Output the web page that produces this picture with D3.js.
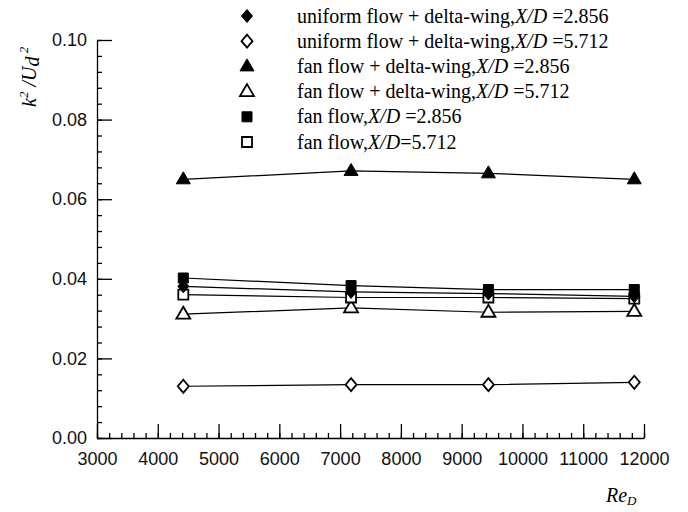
<!DOCTYPE html>
<html>
<head>
<meta charset="utf-8">
<script src="https://cdn.jsdelivr.net/npm/d3@7"></script>
<style>
  body { margin: 0; background: #fff; }
  .tick text { font-family: "Liberation Sans", Arial, sans-serif; font-size: 18px; fill: #111; }
  .lbl { font-family: "Liberation Serif", "Times New Roman", serif; font-size: 20px; fill: #000; }
</style>
</head>
<body>
<div id="chart"></div>
<script>
// Reynolds numbers of the four runs
var reD = [4420, 7180, 9440, 11840];

// k^2/Ud^2 for each case
var uniformDelta2856 = [0.0381, 0.0367, 0.0363, 0.0356];
var uniformDelta5712 = [0.0130, 0.0134, 0.0134, 0.0140];
var fanDelta2856 = [0.0650, 0.0671, 0.0665, 0.0650];
var fanDelta5712 = [0.0311, 0.0327, 0.0316, 0.0318];
var fan2856 = [0.0402, 0.0383, 0.0373, 0.0373];
var fan5712 = [0.0360, 0.0353, 0.0353, 0.0350];

var xTicks = [3000, 4000, 5000, 6000, 7000, 8000, 9000, 10000, 11000, 12000];
var yTicks = [0.00, 0.02, 0.04, 0.06, 0.08, 0.10];

// legend rows: text before X/D, the rest after
var series = [
  { name: "uniform flow + delta-wing,", tail: " =2.856", values: uniformDelta2856, shape: "diamond", filled: true },
  { name: "uniform flow + delta-wing,", tail: " =5.712", values: uniformDelta5712, shape: "diamond", filled: false },
  { name: "fan flow + delta-wing,", tail: " =2.856", values: fanDelta2856, shape: "triangle", filled: true },
  { name: "fan flow + delta-wing,", tail: " =5.712", values: fanDelta5712, shape: "triangle", filled: false },
  { name: "fan flow,", tail: " =2.856", values: fan2856, shape: "square", filled: true },
  { name: "fan flow,", tail: "=5.712", values: fan5712, shape: "square", filled: false }
];
// draw open markers first so the filled ones sit on top
var drawOrder = [1, 3, 5, 0, 2, 4];

var width = 688, height = 512;
var margin = { left: 97, right: 44, top: 40, bottom: 74 };

var svg = d3.select("#chart")
  .append("svg")
    .attr("width", width)
    .attr("height", height)
    .style("background", "#fff");

var x = d3.scaleLinear()
  .domain([3000, 12000])
  .range([margin.left, width - margin.right]);

var y = d3.scaleLinear()
  .domain([0, 0.1])
  .range([height - margin.bottom, margin.top]);

// marker shapes
var shapes = {
  diamond: { draw: function(c, s) { c.moveTo(0, -6.5); c.lineTo(5.5, 0); c.lineTo(0, 6.5); c.lineTo(-5.5, 0); c.closePath(); } },
  triangle: { draw: function(c, s) { c.moveTo(0, -7.5); c.lineTo(7, 4.5); c.lineTo(-7, 4.5); c.closePath(); } },
  square: { draw: function(c, s) { c.moveTo(-5, -5); c.lineTo(5, -5); c.lineTo(5, 5); c.lineTo(-5, 5); c.closePath(); } }
};
var symbol = function(shape) { return d3.symbol().type(shapes[shape])(); };

// minor ticks (no labels)
svg.append("g")
  .attr("transform", "translate(0," + y(0) + ")")
  .call(d3.axisBottom(x).tickValues(d3.range(3000, 12001, 200)).tickSize(-5).tickFormat(""))
  .call(function(g) { g.select(".domain").remove(); });

svg.append("g")
  .attr("transform", "translate(" + x(3000) + ",0)")
  .call(d3.axisLeft(y).tickValues(d3.range(0, 0.1001, 0.004)).tickSize(-5).tickFormat(""))
  .call(function(g) { g.select(".domain").remove(); });

// major ticks + labels
svg.append("g")
  .attr("transform", "translate(0," + y(0) + ")")
  .call(d3.axisBottom(x).tickValues(xTicks).tickSizeInner(-14).tickSizeOuter(0).tickPadding(14).tickFormat(d3.format("d")));

svg.append("g")
  .attr("transform", "translate(" + x(3000) + ",0)")
  .call(d3.axisLeft(y).tickValues(yTicks).tickSizeInner(-15).tickSizeOuter(0).tickPadding(10).tickFormat(d3.format(".2f")));

svg.selectAll(".domain, .tick line").attr("stroke", "#000").attr("stroke-width", 1.3);

// lines
var line = d3.line()
  .x(function(d, i) { return x(reD[i]); })
  .y(function(d) { return y(d); });

svg.append("g")
  .selectAll("path")
  .data(drawOrder.map(function(i) { return series[i]; }))
  .enter()
  .append("path")
    .attr("d", function(d) { return line(d.values); })
    .attr("fill", "none")
    .attr("stroke", "#000")
    .attr("stroke-width", 1.2);

// markers
drawOrder.forEach(function(i) {
  var s = series[i];
  svg.append("g")
    .selectAll("path")
    .data(s.values)
    .enter()
    .append("path")
      .attr("d", symbol(s.shape))
      .attr("transform", function(d, j) { return "translate(" + x(reD[j]) + "," + y(d) + ")"; })
      .attr("fill", s.filled ? "#000" : "#fff")
      .attr("stroke", "#000")
      .attr("stroke-width", s.filled ? 1 : 1.8);
});

// legend
var legend = svg.append("g")
  .selectAll("g")
  .data(series)
  .enter()
  .append("g")
    .attr("transform", function(d, i) { return "translate(247," + (16 + i * 25.2) + ")"; });

legend.append("path")
  .attr("d", function(d) { return symbol(d.shape); })
  .attr("fill", function(d) { return d.filled ? "#000" : "#fff"; })
  .attr("stroke", "#000")
  .attr("stroke-width", function(d) { return d.filled ? 1 : 1.8; });

var lt = legend.append("text")
  .attr("class", "lbl")
  .attr("x", 50)
  .attr("y", 6.5);
lt.append("tspan").text(function(d) { return d.name; });
lt.append("tspan").attr("font-style", "italic").text("X/D");
lt.append("tspan").text(function(d) { return d.tail; });

// axis titles
var yt = svg.append("text")
  .attr("class", "lbl")
  .attr("font-size", 19)
  .attr("font-style", "italic")
  .attr("transform", "translate(36,107) rotate(-90)");
yt.append("tspan").text("k");
yt.append("tspan").attr("font-size", 13).attr("dy", -8).text("2");
yt.append("tspan").attr("dy", 8).text(" /U");
yt.append("tspan").attr("dy", 3).text("d");
yt.append("tspan").attr("font-size", 13).attr("dy", -11).text(" 2");

var xt = svg.append("text")
  .attr("class", "lbl")
  .attr("font-style", "italic")
  .attr("x", 606)
  .attr("y", 502);
xt.append("tspan").text("Re");
xt.append("tspan").attr("font-size", 13).attr("dy", 3).text("D");
</script>
</body>
</html>
